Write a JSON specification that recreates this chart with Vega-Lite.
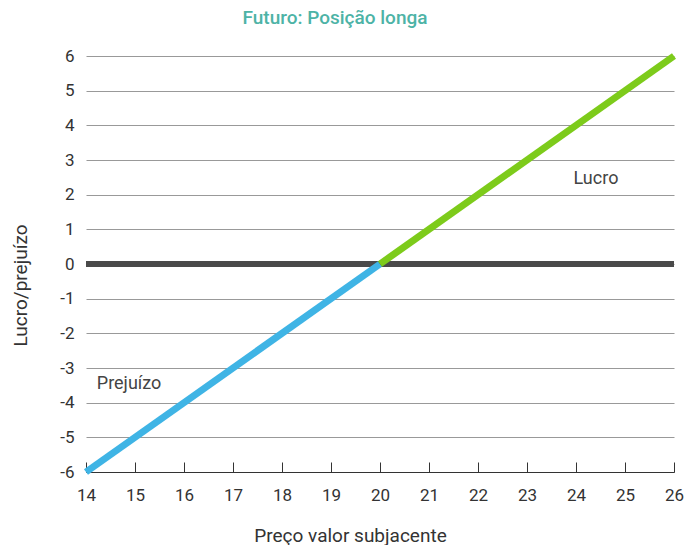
{
  "$schema": "https://vega.github.io/schema/vega-lite/v6.json",
  "autosize": "none",
  "width": 588,
  "height": 416,
  "padding": {"left": 86, "top": 56, "right": 12, "bottom": 73},
  "background": "white",
  "config": {
    "font": "Roboto",
    "view": {"stroke": null}
  },
  "title": {
    "text": "Futuro: Posição longa",
    "color": "#4DB3A6",
    "fontSize": 19,
    "fontWeight": 500,
    "anchor": "middle",
    "dx": -45,
    "offset": 14
  },
  "datasets": {
    "lines": [
      {"preco": 14, "valor": -6, "serie": "Prejuízo"},
      {"preco": 20, "valor": 0, "serie": "Prejuízo"},
      {"preco": 20, "valor": 0, "serie": "Lucro"},
      {"preco": 26, "valor": 6, "serie": "Lucro"}
    ],
    "zero": [{"preco": 14, "preco2": 26, "valor": 0}],
    "labels": [
      {"preco": 23.95, "valor": 2.45, "texto": "Lucro"},
      {"preco": 14.22, "valor": -3.45, "texto": "Prejuízo"}
    ]
  },
  "encoding": {
    "x": {
      "field": "preco", "type": "quantitative",
      "scale": {"domain": [14, 26], "nice": false, "zero": false},
      "axis": {
        "values": [14,15,16,17,18,19,20,21,22,23,24,25,26],
        "tickCount": 30,
        "format": "d",
        "grid": false,
        "domain": true,
        "domainColor": "#333",
        "domainWidth": 1,
        "ticks": true,
        "tickSize": -10,
        "tickColor": "#333",
        "tickWidth": 1,
        "labelPadding": 25,
        "labelFontSize": 17,
        "labelColor": "#333",
        "labelFlush": false,
        "labelOverlap": false,
        "title": "Preço valor subjacente",
        "titleFontSize": 19,
        "titleFontWeight": "normal",
        "titleColor": "#333",
        "titleX": 264,
        "titleY": 63,
        "titleAlign": "center",
        "titleBaseline": "middle"
      }
    },
    "y": {
      "field": "valor", "type": "quantitative",
      "scale": {"domain": [-6, 6], "nice": false},
      "axis": {
        "values": [-6,-5,-4,-3,-2,-1,0,1,2,3,4,5,6],
        "tickCount": 30,
        "grid": true,
        "gridColor": "#999",
        "gridWidth": 1,
        "domain": false,
        "ticks": false,
        "labelPadding": 12,
        "labelFontSize": 17,
        "labelColor": "#333",
        "labelFlush": false,
        "labelOverlap": false,
        "labelExpr": "datum.value < 0 ? '-' + abs(datum.value) : '' + datum.value",
        "title": "Lucro/prejuízo",
        "titleFontSize": 19,
        "titleFontWeight": "normal",
        "titleColor": "#333",
        "titleAngle": -90,
        "titleX": -66,
        "titleY": 229,
        "titleAlign": "center",
        "titleBaseline": "middle"
      }
    }
  },
  "layer": [
    {
      "data": {"name": "zero"},
      "mark": {"type": "rule", "color": "#4a4a4a", "strokeWidth": 6},
      "encoding": {
        "x2": {"field": "preco2"}
      }
    },
    {
      "data": {"name": "lines"},
      "mark": {"type": "line", "strokeWidth": 7, "strokeCap": "butt"},
      "encoding": {
        "detail": {"field": "serie"},
        "color": {
          "field": "serie", "type": "nominal",
          "scale": {"domain": ["Prejuízo", "Lucro"], "range": ["#3FB4E5", "#7DCB1B"]},
          "legend": null
        }
      }
    },
    {
      "data": {"name": "labels"},
      "mark": {"type": "text", "align": "left", "baseline": "middle", "fontSize": 18, "color": "#444"},
      "encoding": {
        "text": {"field": "texto"}
      }
    }
  ]
}
